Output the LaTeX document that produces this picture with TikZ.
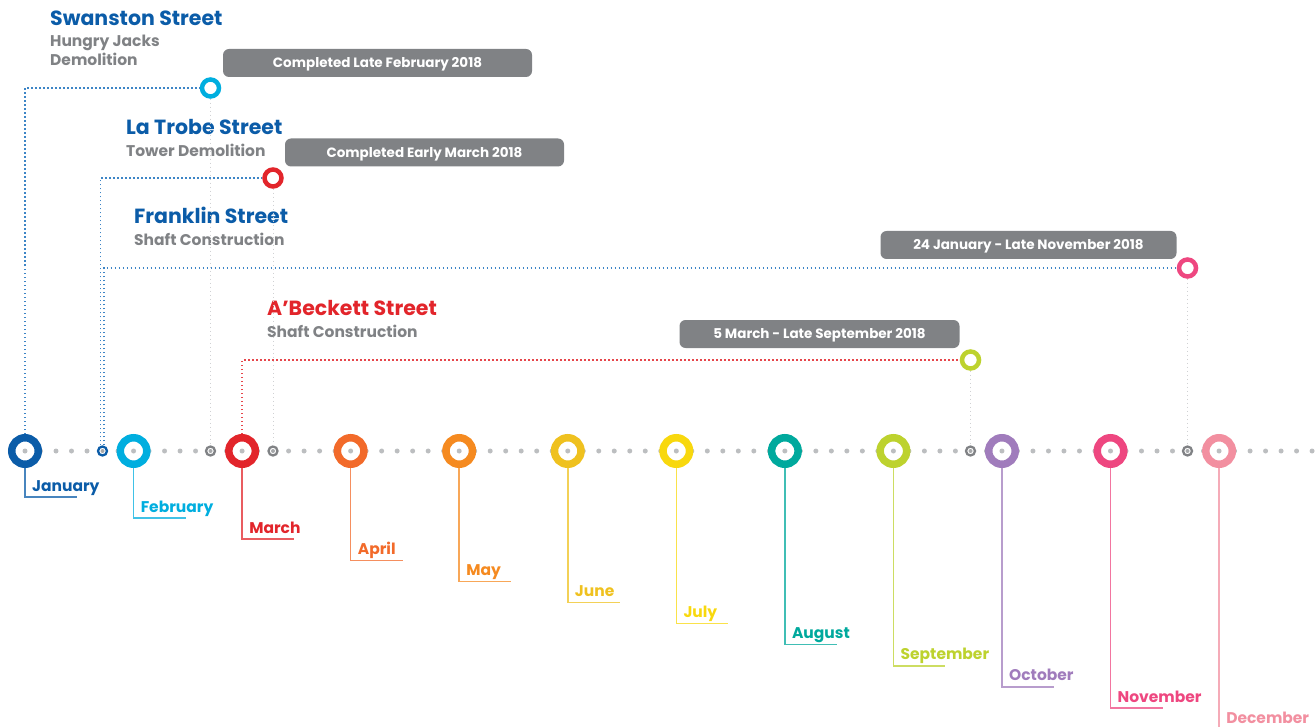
\documentclass[tikz,border=0pt]{standalone}
\usepackage{fontspec}
\setmainfont{Poppins}

\definecolor{cjan}{HTML}{0B5CA8}
\definecolor{cfeb}{HTML}{00AEDF}
\definecolor{cmar}{HTML}{E2252B}
\definecolor{capr}{HTML}{F26A2A}
\definecolor{cmay}{HTML}{F58A20}
\definecolor{cjun}{HTML}{EFC11F}
\definecolor{cjul}{HTML}{F8D80E}
\definecolor{caug}{HTML}{00A99D}
\definecolor{csep}{HTML}{BDD22E}
\definecolor{coct}{HTML}{A07CBC}
\definecolor{cnov}{HTML}{EE4780}
\definecolor{cdec}{HTML}{F28FA0}
\definecolor{subgray}{HTML}{808285}
\definecolor{boxgray}{HTML}{808285}
\definecolor{dotgray}{HTML}{BCBEC0}
\definecolor{dotblue}{HTML}{3D85C6}

\tikzset{
  month/.style={circle, draw=#1, fill=white, line width=7.5pt, minimum size=26.5pt, inner sep=0pt},
  site/.style={circle, draw=#1, fill=white, line width=4.5pt, minimum size=17pt, inner sep=0pt},
  waypt/.style={circle, draw=#1, fill=white, line width=2.3pt, minimum size=9pt, inner sep=0pt},
  leader/.style={draw=#1, line width=1.5pt},
  mlabel/.style={anchor=base west, inner sep=0pt, text=#1, font=\bfseries\fontsize{15.5}{15.5}\selectfont},
  head/.style={anchor=base west, inner sep=0pt, text=#1, font=\bfseries\fontsize{20.5}{20.5}\selectfont},
  sub/.style={anchor=base west, inner sep=0pt, text=subgray, font=\bfseries\fontsize{15.5}{15.5}\selectfont},
  period/.style={fill=boxgray, rounded corners=6pt, text=white, inner sep=0pt,
    minimum height=28pt, minimum width=#1, text height=9.5pt, text depth=0pt,
    font=\bfseries\fontsize{13.5}{13.5}\selectfont},
  bluedot/.style={draw=dotblue, line width=1.5pt, dash pattern=on 1.5pt off 2.5pt},
  reddot/.style={draw=cmar!85, line width=1.5pt, dash pattern=on 1.5pt off 2.5pt},
  greydot/.style={draw=dotgray!70, line width=1pt, dash pattern=on 1pt off 3pt}
}

\begin{document}
\begin{tikzpicture}[x=1pt, y=-1pt]
    \useasboundingbox (0,0) rectangle (1316,727);
    % timeline dots
    \foreach \i in {0,...,11}
      \foreach \k in {1,...,6}
        \fill[dotgray] (25+108.55*\i+15.5*\k, 451) circle (2.5pt);
    % months
    \foreach \nm/\txt/\col [count=\i from 0] in {jan/January/cjan, feb/February/cfeb,
        mar/March/cmar, apr/April/capr, may/May/cmay, jun/June/cjun, jul/July/cjul,
        aug/August/caug, sep/September/csep, oct/October/coct, nov/November/cnov,
        dec/December/cdec} {
      \node[month=\col] (\nm) at (25+108.55*\i, 451) {};
      \fill[dotgray] (\nm) circle (2.5pt);
      \coordinate (\nm end) at (77+108.55*\i, 497+21.1*\i);
      \draw[leader=\col!75] (\nm.south) |- (\nm end);
      \node[mlabel=\col] (\nm lab) at (32+108.55*\i, 491+21.1*\i) {\txt};
    }
    % small stops
    \node[waypt=cjan] (w1) at (102.5,451) {};
    \node[waypt=subgray] (w2) at (210.5,451) {};
    \node[waypt=subgray] (w3) at (273,451) {};
    \node[waypt=subgray] (w4) at (970.5,451) {};
    \node[waypt=subgray] (w5) at (1187.5,451) {};
    \foreach \w in {w1,w2,w3,w4,w5}
      \fill[subgray!70] (\w) circle (2pt);

    % Swanston Street
    \node[head=cjan] (swanhead) at (50,25.5) {Swanston Street};
    \node[sub] (swansub) at (50,46.5) {Hungry Jacks};
    \node[sub] (swansub2) at (50,66) {Demolition};
    \node[period=309pt] (swanbox) at (377.5,63) {Completed Late February 2018};
    \node[site=cfeb] (swan) at (210.5,88) {};
    % La Trobe Street
    \node[head=cjan] (latrhead) at (126,135) {La Trobe Street};
    \node[sub] (latrsub) at (126,157) {Tower Demolition};
    \node[period=279pt] (latrbox) at (424.5,152.5) {Completed Early March 2018};
    \node[site=cmar] (latr) at (273,178) {};
    % Franklin Street
    \node[head=cjan] (frankhead) at (134,224) {Franklin Street};
    \node[sub] (franksub) at (134,246) {Shaft Construction};
    \node[period=296pt] (frankbox) at (1028.5,245) {24 January - Late November 2018};
    \node[site=cnov] (frank) at (1187.5,268) {};
    % A'Beckett Street
    \node[head=cmar] (abeckhead) at (267,315) {A’Beckett Street};
    \node[sub] (abecksub) at (267,337) {Shaft Construction};
    \node[period=280pt] (abeckbox) at (819.5,334) {5 March - Late September 2018};
    \node[site=csep] (abeck) at (970.5,360) {};

    % connectors
    \draw[bluedot] (jan.north) |- (swan.west);
    \draw[bluedot] ([xshift=-2pt]w1.north) |- (latr.west);
    \draw[bluedot] ([xshift=1.5pt]w1.north) |- (frank.west);
    \draw[reddot] (mar.north) |- (abeck.west);
    \draw[greydot] (swan.south) -- (w2.north);
    \draw[greydot] (latr.south) -- (w3.north);
    \draw[greydot] (abeck.south) -- (w4.north);
    \draw[greydot] (frank.south) -- (w5.north);
\end{tikzpicture}
\end{document}
